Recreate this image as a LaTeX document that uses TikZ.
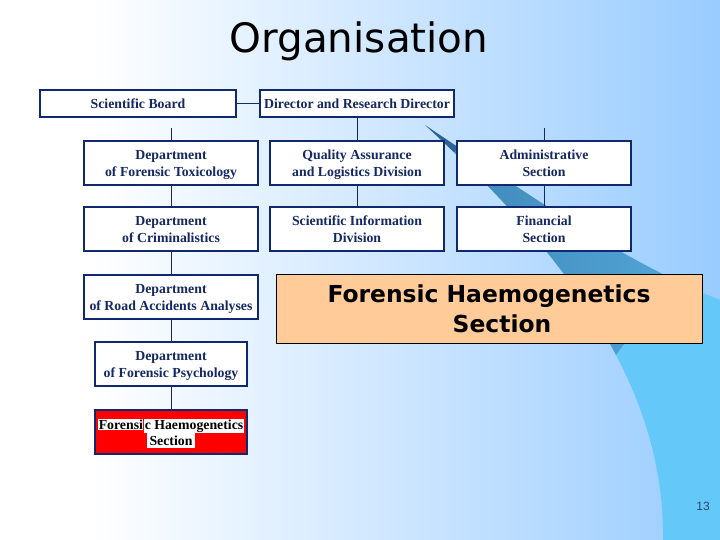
\documentclass[tikz,border=0pt]{standalone}
\usepackage{fontspec}
\setmainfont{Liberation Serif}
\newfontfamily\titlefont{DejaVu Sans}
\newfontfamily\numfont{Liberation Sans}
\definecolor{bgblue}{RGB}{153,204,255}
\definecolor{navy}{RGB}{20,40,100}
\definecolor{boxline}{RGB}{16,40,112}
\definecolor{swdark}{RGB}{44,100,150}
\definecolor{swcyan}{RGB}{100,200,248}
\definecolor{orangefill}{RGB}{255,204,153}
\definecolor{numcol}{RGB}{40,70,110}
\begin{document}
\begin{tikzpicture}[x=1pt,y=-1pt,
  orgbox/.style={draw=boxline, line width=1.8pt, fill=white, text=navy,
    font=\bfseries\fontsize{13.8}{17}\selectfont, align=center, inner sep=0pt,
    minimum width=174pt, minimum height=44pt, text depth=0pt},
  topbox/.style={orgbox, minimum height=27pt},
  link/.style={draw=navy, line width=0.8pt}]
\useasboundingbox (0,0) rectangle (720,540);
% background
\fill[white] (0,0) rectangle (90,540);
\shade[left color=white, right color=bgblue] (90,0) rectangle (720,540);
% swoosh
\begin{scope}
  \clip (425,125) .. controls (530,195) and (620,260) .. (720,300) -- (720,540) -- (663,540)
    .. controls (665,380) and (560,250) .. (425,125) -- cycle;
  \begin{scope}[shift={(425,125)}, rotate=-36]
    \fill[swdark] (-100,-500) rectangle (40,500);
    \shade[left color=swdark, right color=swcyan] (40,-500) rectangle (290,500);
    \fill[swcyan] (290,-500) rectangle (900,500);
  \end{scope}
\end{scope}
% title
\node (title) at (359,41) {\titlefont\fontsize{40.5}{44}\selectfont Organisation};
% boxes
\node[topbox, minimum width=196pt] (sb) at (138,103.5) {Scientific Board};
\node[topbox, minimum width=194pt] (dir) at (357,103.5) {Director and Research Director};
\node[orgbox] (tox) at (171,163) {Department\\of Forensic Toxicology};
\node[orgbox] (qa) at (357,163) {Quality Assurance\\and Logistics Division};
\node[orgbox] (adm) at (544,163) {Administrative\\Section};
\node[orgbox] (crim) at (171,229) {Department\\of Criminalistics};
\node[orgbox] (sid) at (357,229) {Scientific Information\\Division};
\node[orgbox] (fin) at (544,229) {Financial\\Section};
\node[orgbox] (road) at (171,297) {Department\\of Road Accidents Analyses};
\node[orgbox, minimum width=152pt] (psy) at (171,364) {Department\\of Forensic Psychology};
\node[orgbox, minimum width=152pt, fill=red, text=black] (fhs) at (171,432)
  {\setlength\fboxsep{0.5pt}\colorbox{white}{Forensi}\hspace{0.8pt}\colorbox{white}{c Haemogenetics}\\[-1pt]\colorbox{white}{Section}};
\node[draw=black, line width=0.8pt, fill=orangefill, minimum width=426pt, minimum height=69pt,
  align=center, inner sep=0pt, font=\titlefont\bfseries\fontsize{23.4}{30}\selectfont] (orange) at (489,309)
  {Forensic Haemogenetics\\\hspace*{26pt}Section};
% connectors
\coordinate (c1) at (171,128);
\coordinate (c3) at (544,128);
\draw[link] (sb) -- (dir);
\draw[link] (c1) -- (tox.north);
\draw[link] (c3) -- (adm.north);
\draw[link] (dir) -- (qa);
\draw[link] (tox) -- (crim);
\draw[link] (crim) -- (road);
\draw[link] (road) -- (psy);
\draw[link] (psy) -- (fhs);
\draw[link] (qa) -- (sid);
\draw[link] (adm) -- (fin);
% page number
\node[text=numcol, font=\numfont\fontsize{12}{14}\selectfont] (num) at (703,506) {13};
\end{tikzpicture}
\end{document}
